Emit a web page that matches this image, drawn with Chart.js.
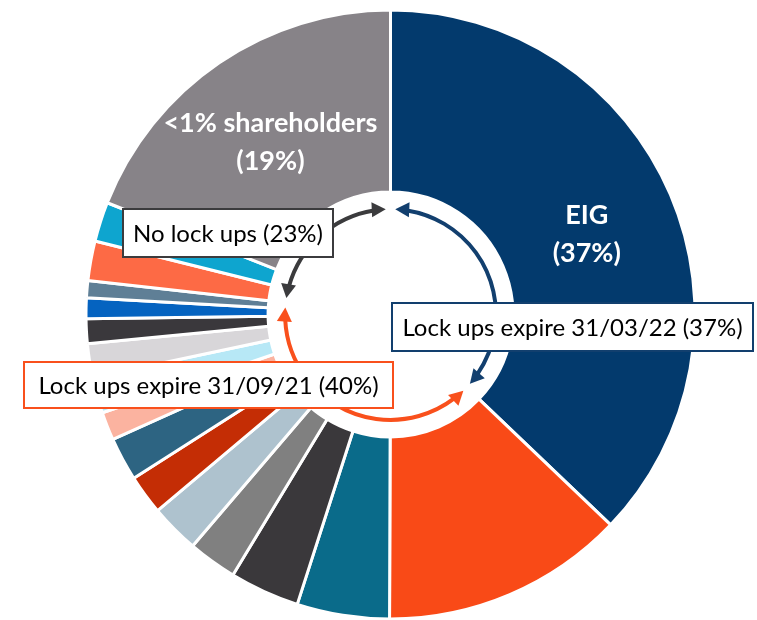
<!DOCTYPE html>
<html>
<head>
<meta charset="utf-8">
<script src="https://cdn.jsdelivr.net/npm/chart.js@4.4.1/dist/chart.umd.min.js"></script>
<style>
  html, body { margin: 0; padding: 0; background: #fff; }
  #wrap { width: 757px; height: 620px; }
</style>
</head>
<body>
<div id="wrap"><canvas id="chart"></canvas></div>
<script>
// Shareholder slices, clockwise from 12 o'clock
const holders = [
    'EIG', 'Holder 2', 'Holder 3', 'Holder 4', 'Holder 5', 'Holder 6', 'Holder 7',
    'Holder 8', 'Holder 9', 'Holder 10', 'Holder 11', 'Holder 12', 'Holder 13',
    'Holder 14', 'Holder 15', 'Holder 16', '<1% shareholders'
];
const stakes = [37.1, 12.9, 4.9, 3.7, 2.6, 2.6, 2.1, 2.3, 1.5, 1.9, 1.8, 1.3, 1.1, 0.9, 2.1, 2.1, 19.0];
const sliceColors = [
    '#033a6d', '#f94a17', '#0a6b8a', '#3a383b', '#808080', '#aec2ce', '#c42d05',
    '#2d6482', '#fbb3a0', '#b7e8f6', '#d8d6d9', '#3a383c', '#0563c0', '#5f7f96',
    '#fd6a45', '#0ea5cf', '#878388'
];
// which lock-up group each slice belongs to
const groupOf = [0, 1, 1, 1, 1, 1, 1, 1, 1, 1, 1, 1, 1, 1, 2, 2, 2];
const groupNames = ['Lock ups expire 31/03/22', 'Lock ups expire 31/09/21', 'No lock ups'];
const groupColors = ['#123f6e', '#f9501c', '#3b3b3d'];
const labelledSlices = [0, 16];

const pct = v => Math.round(v) + '%';

const annotations = {
    id: 'annotations',
    afterDatasetsDraw(chart) {
        const ctx = chart.ctx;
        const arcs = chart.getDatasetMeta(0).data;
        const cx = arcs[0].x, cy = arcs[0].y;
        const r = arcs[0].innerRadius - 17;
        const gap = 0.045, head = 14, halfW = 7.5;

        // slice labels
        ctx.save();
        ctx.fillStyle = '#fff';
        ctx.font = 'bold 27px Lato';
        ctx.textAlign = 'center';
        ctx.textBaseline = 'middle';
        labelledSlices.forEach(i => {
            const p = arcs[i].tooltipPosition();
            ctx.fillText(holders[i], p.x, p.y - 15);
            ctx.fillText('(' + pct(stakes[i]) + ')', p.x, p.y + 23);
        });
        ctx.restore();

        // circular arrows for each group
        const tip = (a, dir, color) => {
            const px = cx + r * Math.cos(a), py = cy + r * Math.sin(a);
            const tx = -Math.sin(a) * dir, ty = Math.cos(a) * dir;
            const bx = px - tx * head, by = py - ty * head;
            ctx.beginPath();
            ctx.moveTo(px, py);
            ctx.lineTo(bx + ty * halfW, by - tx * halfW);
            ctx.lineTo(bx - ty * halfW, by + tx * halfW);
            ctx.closePath();
            ctx.fillStyle = color;
            ctx.fill();
        };
        const totals = [0, 0, 0];
        groupNames.forEach((name, g) => {
            const idx = groupOf.map((v, i) => v === g ? i : -1).filter(i => i >= 0);
            idx.forEach(i => totals[g] += stakes[i]);
            const a0 = arcs[idx[0]].startAngle + gap;
            const a1 = arcs[idx[idx.length - 1]].endAngle - gap;
            ctx.save();
            ctx.strokeStyle = groupColors[g];
            ctx.lineWidth = 4;
            ctx.beginPath();
            ctx.arc(cx, cy, r, a0 + (head - 2) / r, a1 - (head - 2) / r);
            ctx.stroke();
            tip(a0, -1, groupColors[g]);
            tip(a1, 1, groupColors[g]);
            ctx.restore();
        });

        // group boxes
        const boxes = [
            { x: 392, y: 303, w: 361, h: 48 },
            { x: 24, y: 362, w: 369, h: 46 },
            { x: 123, y: 209, w: 210, h: 48 }
        ];
        boxes.forEach((b, g) => {
            ctx.save();
            ctx.fillStyle = '#fff';
            ctx.fillRect(b.x, b.y, b.w, b.h);
            ctx.strokeStyle = groupColors[g];
            ctx.lineWidth = 2;
            ctx.strokeRect(b.x, b.y, b.w, b.h);
            ctx.fillStyle = '#000';
            ctx.font = '24px Lato';
            ctx.textAlign = 'center';
            ctx.textBaseline = 'middle';
            ctx.fillText(groupNames[g] + ' (' + pct(totals[g]) + ')', b.x + b.w / 2, b.y + b.h / 2 + 1);
            ctx.restore();
        });
    }
};

new Chart(document.getElementById('chart'), {
    type: 'doughnut',
    data: {
        labels: holders,
        datasets: [{
            data: stakes,
            backgroundColor: sliceColors,
            borderColor: '#fff',
            borderWidth: 3
        }]
    },
    options: {
        responsive: true,
        maintainAspectRatio: false,
        animation: false,
        cutout: '40.2%',
        radius: 304.5,
        layout: { padding: { left: 24, top: 9, right: 0, bottom: 0 } },
        plugins: {
            legend: { display: false },
            tooltip: { enabled: false }
        }
    },
    plugins: [annotations]
});
</script>
</body>
</html>
